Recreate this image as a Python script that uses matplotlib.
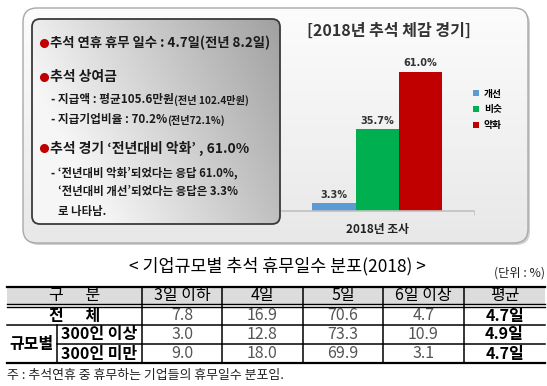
import numpy as np
import matplotlib
matplotlib.use("Agg")
import matplotlib.pyplot as plt
from matplotlib.patches import FancyBboxPatch, Rectangle

plt.rcParams['font.family'] = ['Noto Sans CJK KR', 'DejaVu Sans']

# bar chart data
bar_labels = ['개선', '비슷', '악화']
bar_values = [3.3, 35.7, 61.0]
bar_colors = ['#5b9bd5', '#00b050', '#c00000']
bar_category = '2018년 조사'

# table data
col_names = ['3일 이하', '4일', '5일', '6일 이상', '평균']
row_total = [7.8, 16.9, 70.6, 4.7]
row_large = [3.0, 12.8, 73.3, 10.9]
row_small = [9.0, 18.0, 69.9, 3.1]
avg_days = [4.7, 4.9, 4.7]

W, H = 547, 386
fig = plt.figure(figsize=(W / 100, H / 100), dpi=100)
ax = fig.add_axes([0, 0, 1, 1])
ax.set_axis_off()


def grad_box(x0, y0, x1, y1, img, r, ec, lw, z):
    patch = FancyBboxPatch((x0, y0), x1 - x0, y1 - y0,
                           boxstyle=f'round,pad=0,rounding_size={r}',
                           fc='none', ec=ec, lw=lw, zorder=z + 1)
    ax.add_patch(patch)
    im = ax.imshow(img, extent=(x0, x1, y1, y0), aspect='auto',
                   interpolation='bilinear', zorder=z)
    im.set_clip_path(patch)


def blend(c0, c1, t):
    c0 = np.array(matplotlib.colors.to_rgb(c0))
    c1 = np.array(matplotlib.colors.to_rgb(c1))
    return c0 + (c1 - c0) * t[..., None]


# outer light box (with a faint shadow)
ax.add_patch(FancyBboxPatch((25, 10), 505, 235, boxstyle='round,pad=0,rounding_size=14',
                            fc='#cfcfcf', ec='none', zorder=0))
yy, xx = np.mgrid[0:1:100j, 0:1:200j]
grad_box(23, 8, 528, 243, blend('#fcfcfc', '#e8e8e8', yy), 14, '#a8a8a8', 1.0, 1)

# inner grey box
t = np.clip(0.85 * xx + 0.35 * (1 - yy) - 0.25, 0, 1)
grad_box(32, 19, 280, 224, blend('#f6f6f6', '#9c9c9c', t), 8, '#3a3a3a', 1.3, 3)


def chain(pieces, x, y):
    prev = None
    for s, size, w in pieces:
        if prev is None:
            prev = ax.text(x, y, s, fontsize=size, fontweight=w, color='#1a1a1a',
                           va='center', ha='left', zorder=6)
        else:
            prev = ax.annotate(s, xy=(1, 0), xycoords=prev, fontsize=size,
                               fontweight=w, color='#1a1a1a', va='bottom',
                               ha='left', zorder=6)


for yb in [43, 77, 148]:
    ax.plot(44, yb, 'o', color='#c00000', ms=5.5, zorder=6)

chain([('추석 연휴 휴무 일수 : 4.7일(전년 8.2일)', 9.6, 'bold')], 50, 43)
chain([('추석 상여금', 10, 'bold')], 50, 77)
chain([('- 지급액 : 평균105.6만원', 8.4, 'bold'), ('(전년 102.4만원)', 7.3, 'bold')], 51, 100)
chain([('- 지급기업비율 : 70.2%', 8.4, 'bold'), ('(전년72.1%)', 7.3, 'bold')], 51, 119)
chain([('추석 경기 ‘전년대비 악화’ , 61.0%', 10, 'bold')], 50, 148)
chain([('- ‘전년대비 악화’되었다는 응답 61.0%,', 8.2, 'bold')], 51, 173)
chain([('‘전년대비 개선’되었다는 응답은 3.3%', 8.2, 'bold')], 58, 192)
chain([('로 나타남.', 8.2, 'bold')], 58, 211)

# bar chart title
ax.text(389, 31, '[2018년 추석 체감 경기]', fontsize=11.5, fontweight='bold',
        color='#333333', ha='center', va='center', zorder=6)

# bar chart axes
bax = fig.add_axes([282 / W, (H - 211) / H, 192 / W, 160 / H])
bax.patch.set_alpha(0)
bax.set_zorder(5)
pos = np.arange(len(bar_values)) - 1
bars = bax.bar(pos, bar_values, width=1.0, color=bar_colors, label=bar_labels)
for p, v in zip(pos, bar_values):
    bax.text(p, v + 1.6, f'{v:.1f}%', ha='center', va='bottom', fontsize=7,
             fontweight='bold', color='#333333', family='DejaVu Sans')
bax.set_xlim(-2.2, 2.23)
bax.set_ylim(0, 70)
for s in ['top', 'left', 'right']:
    bax.spines[s].set_visible(False)
bax.spines['bottom'].set_color('#c0c0c0')
bax.spines['bottom'].set_linewidth(1.2)
bax.set_yticks([])
bax.set_xticks([0], [bar_category])
bax.set_xticks([2.23], minor=True)
bax.tick_params(axis='x', which='major', length=0, pad=9, labelsize=8.5,
                labelcolor='#222222')
bax.tick_params(axis='x', which='minor', length=3, color='#c0c0c0')
for lbl in bax.get_xticklabels():
    lbl.set_fontweight('bold')
leg = bax.legend(handles=list(bars), labels=bar_labels, loc='upper left',
                 bbox_to_anchor=(0.95, 0.82), frameon=False,
                 handlelength=0.6, handleheight=0.6, handletextpad=0.5,
                 labelspacing=0.6, prop={'weight': 'bold', 'size': 7})

# table title
ax.text(277, 266, '< 기업규모별 추석 휴무일수 분포(2018) >', fontsize=12.5,
        ha='center', va='center', color='black', fontweight='medium')
ax.text(545, 273, '(단위 : %)', fontsize=8.8, ha='right', va='center', color='#222222')

# table grid
xs = [7, 142, 222, 303, 383, 464, 545]
ys = [287, 304, 325, 344, 363]
ax.add_patch(Rectangle((xs[0], ys[0]), xs[-1] - xs[0], ys[1] - ys[0],
                       fc='#dcdcdc', ec='none', zorder=2))
ax.plot([xs[0], xs[-1]], [ys[0], ys[0]], color='black', lw=1.6, zorder=4)
ax.plot([xs[0], xs[-1]], [ys[1], ys[1]], color='black', lw=1, zorder=4)
ax.plot([xs[0], xs[-1]], [ys[1] + 2.5, ys[1] + 2.5], color='black', lw=1, zorder=4)
ax.plot([xs[0], xs[-1]], [ys[2], ys[2]], color='black', lw=1.1, zorder=4)
ax.plot([57, xs[-1]], [ys[3], ys[3]], color='black', lw=1.1, zorder=4)
ax.plot([xs[0], xs[-1]], [ys[4], ys[4]], color='black', lw=1.6, zorder=4)
for x in xs[1:-1]:
    ax.plot([x, x], [ys[0], ys[4]], color='black', lw=1.1, zorder=4)
ax.plot([57, 57], [ys[2], ys[4]], color='black', lw=1.1, zorder=4)

mid = lambda a, b: (a + b) / 2
fs = 11.5
hy = mid(ys[0], ys[1])
ax.text(mid(xs[0], xs[1]), hy, '구      분', fontsize=fs, ha='center', va='center',
        fontweight='medium')
for i, name in enumerate(col_names):
    ax.text(mid(xs[i + 1], xs[i + 2]), hy, name, fontsize=fs, ha='center', va='center',
            fontweight='medium')

rows = [row_total, row_large, row_small]
row_y = [mid(ys[1] + 2.5, ys[2]), mid(ys[2], ys[3]), mid(ys[3], ys[4])]
for r, vals in enumerate(rows):
    for i, v in enumerate(vals):
        ax.text(mid(xs[i + 1], xs[i + 2]), row_y[r], f'{v:.1f}', fontsize=fs,
                ha='center', va='center', color='#555555')
    ax.text(mid(xs[5], xs[6]), row_y[r], f'{avg_days[r]:.1f}일', fontsize=fs,
            ha='center', va='center', fontweight='bold')

ax.text(mid(xs[0], xs[1]), row_y[0], '전      체', fontsize=fs, ha='center',
        va='center', fontweight='bold')
ax.text(mid(xs[0], 57), mid(ys[2], ys[4]), '규모별', fontsize=fs, ha='center',
        va='center', fontweight='bold')
ax.text(mid(57, xs[1]), row_y[1], '300인 이상', fontsize=fs, ha='center',
        va='center', fontweight='bold')
ax.text(mid(57, xs[1]), row_y[2], '300인 미만', fontsize=fs, ha='center',
        va='center', fontweight='bold')

ax.text(7, 376, '주 : 추석연휴 중 휴무하는 기업들의 휴무일수 분포임.', fontsize=9.3,
        ha='left', va='center', color='#222222')

ax.set_xlim(0, W)
ax.set_ylim(H, 0)
fig.savefig('out.png', dpi=100)
